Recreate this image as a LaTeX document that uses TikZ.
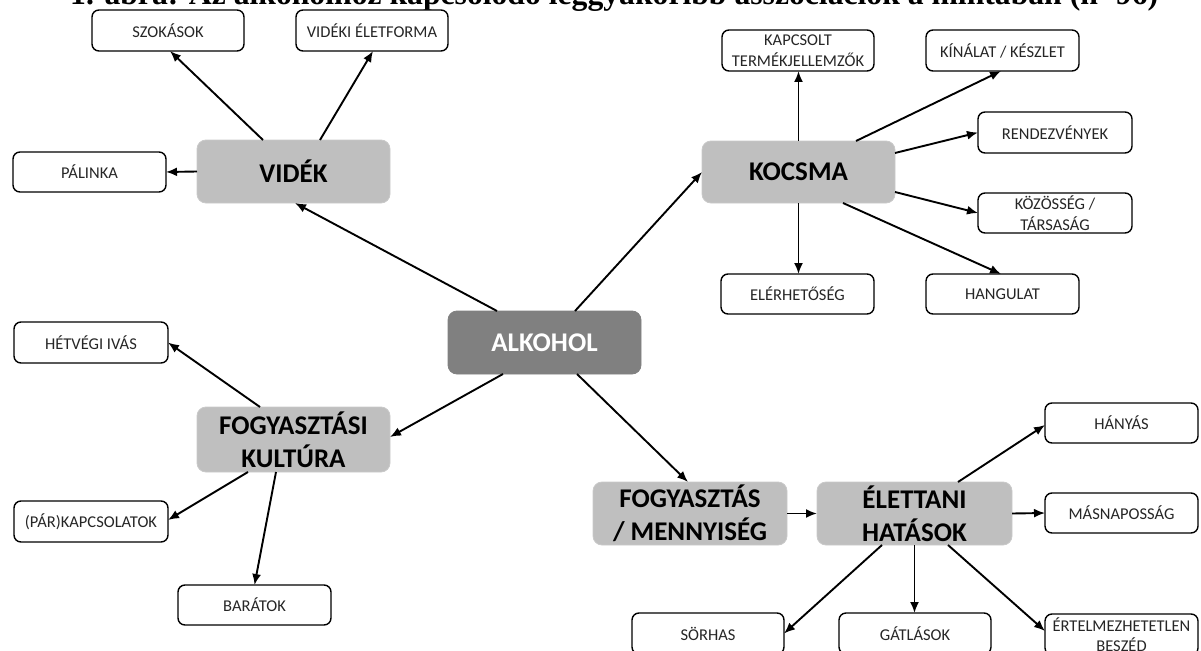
\documentclass[tikz,border=0pt]{standalone}
\usepackage{fontspec}
\usepackage{graphicx}
\setmainfont{Carlito}
\newfontfamily\titlefont{Liberation Serif}
\usetikzlibrary{arrows.meta}
\definecolor{boxgray}{HTML}{BFBFBF}
\definecolor{darkbox}{HTML}{808080}
\definecolor{txt}{HTML}{262626}
\tikzset{
  x=1pt, y=-1pt,
  leaf/.style={draw=black, line width=1.4pt, fill=white, rounded corners=7pt,
    inner sep=0pt, outer sep=0pt, align=center, text=txt,
    font=\fontsize{16.5}{20.5}\selectfont},
  hub/.style={fill=boxgray, draw=boxgray!85!white, line width=0.8pt, rounded corners=9pt,
    inner sep=0pt, outer sep=0pt, align=center, text=black,
    font=\fontsize{27}{33}\selectfont\bfseries},
  core/.style={hub, fill=darkbox, draw=darkbox, text=white},
  conn/.style={line width=1.9pt, -{Latex[length=11pt,width=9pt]}}
}
\begin{document}
\begin{tikzpicture}
\useasboundingbox (0,0) rectangle (1201,650);
% title (cut at the top as in the reference)
\node[anchor=base west, inner sep=0pt] (title) at (70,5)
  {\resizebox{1088pt}{!}{\titlefont\bfseries 1. ábra: Az alkoholhoz kapcsolódó leggyakoribb asszociációk a mintában (n=96)}};

% hubs
\node[hub, minimum width=193pt, minimum height=63pt] (videk) at (293.5,171.5) {VIDÉK};
\node[hub, minimum width=193pt, minimum height=62pt] (kocsma) at (798.5,172) {KOCSMA};
\node[core, minimum width=193pt, minimum height=63pt] (alkohol) at (544.5,342.5) {ALKOHOL};
\node[hub, minimum width=193pt, minimum height=65pt] (fk) at (293.5,439.5) {FOGYASZTÁSI\\KULTÚRA};
\node[hub, minimum width=194pt, minimum height=63pt] (fogy) at (690,513.5) {FOGYASZTÁS\\/ MENNYISÉG};
\node[hub, minimum width=195pt, minimum height=63pt] (elet) at (914.5,513.5) {ÉLETTANI\\HATÁSOK};

% leaves
\node[leaf, minimum width=152pt, minimum height=41pt] (szok) at (168,30.5) {SZOKÁSOK};
\node[leaf, minimum width=152pt, minimum height=41pt] (videki) at (372,30.5) {VIDÉKI ÉLETFORMA};
\node[leaf, minimum width=153pt, minimum height=40pt] (palinka) at (89.5,172) {PÁLINKA};
\node[leaf, minimum width=152pt, minimum height=41pt] (kapcs) at (798,50.5) {KAPCSOLT\\TERMÉKJELLEMZŐK};
\node[leaf, minimum width=153pt, minimum height=41pt] (kinalat) at (1002.5,50.5) {KÍNÁLAT / KÉSZLET};
\node[leaf, minimum width=154pt, minimum height=41pt] (rendez) at (1055,132.5) {RENDEZVÉNYEK};
\node[leaf, minimum width=154pt, minimum height=40pt] (kozosseg) at (1055,213) {KÖZÖSSÉG /\\TÁRSASÁG};
\node[leaf, minimum width=153pt, minimum height=40pt] (elerh) at (797.5,294) {ELÉRHETŐSÉG};
\node[leaf, minimum width=153pt, minimum height=40pt] (hangulat) at (1002.5,294) {HANGULAT};
\node[leaf, minimum width=154pt, minimum height=41pt] (hetvegi) at (91,342.5) {HÉTVÉGI IVÁS};
\node[leaf, minimum width=154pt, minimum height=41pt] (par) at (91,521.5) {(PÁR)KAPCSOLATOK};
\node[leaf, minimum width=153pt, minimum height=40pt] (baratok) at (254.5,605) {BARÁTOK};
\node[leaf, minimum width=152pt, minimum height=41pt] (sorhas) at (708,633.5) {SÖRHAS};
\node[leaf, minimum width=152pt, minimum height=41pt] (gatlas) at (915,633.5) {GÁTLÁSOK};
\node[leaf, minimum width=153pt, minimum height=40pt] (hanyas) at (1121.5,423) {HÁNYÁS};
\node[leaf, minimum width=153pt, minimum height=40pt] (masnap) at (1121.5,513) {MÁSNAPOSSÁG};
\node[leaf, minimum width=153pt, minimum height=41pt] (ertelm) at (1121.5,634.5) {ÉRTELMEZHETETLEN\\BESZÉD};

% connectors
\draw[conn] ([xshift=-30.5pt]videk.north) -- ([xshift=2pt]szok.south);
\draw[conn] ([xshift=26.5pt]videk.north) -- ([xshift=1pt]videki.south);
\draw[conn] (videk.west) -- (palinka.east);
\draw[conn] ([xshift=-47.5pt]alkohol.north) -- ([xshift=1.5pt]videk.south);
\draw[conn] ([xshift=30.5pt]alkohol.north) -- (kocsma.west);
\draw[conn] (kocsma.north) -- (kocsma.north |- kapcs.south);
\draw[conn] ([xshift=57.5pt]kocsma.north) -- ([xshift=-1.5pt]kinalat.south);
\draw[conn] ([yshift=19pt]kocsma.east) -- (rendez.west);
\draw[conn] ([yshift=-20pt]kocsma.east) -- (kozosseg.west);
\draw[conn] ([xshift=44.5pt]kocsma.south) -- ([xshift=-1.5pt]hangulat.north);
\draw[conn] (kocsma.south) -- (kocsma.south |- elerh.north);
\draw[conn] ([xshift=-41.5pt]alkohol.south) -- ([yshift=2.5pt]fk.east);
\draw[conn] ([xshift=32.5pt]alkohol.south) -- ([xshift=-2pt]fogy.north);
\draw[conn] ([xshift=-33.5pt]fk.north) -- (hetvegi.east);
\draw[conn] ([xshift=-45.5pt]fk.south) -- ([yshift=1.5pt]par.east);
\draw[conn] ([xshift=-17.5pt]fk.south) -- (baratok.north);
\draw[conn] (fogy.east) -- (elet.west);
\draw[conn] ([xshift=43.5pt]elet.north) -- ([yshift=-2pt]hanyas.west);
\draw[conn] (elet.east) -- (masnap.west);
\draw[conn] ([xshift=33.5pt]elet.south) -- ([yshift=3.5pt]ertelm.west);
\draw[conn] (elet.south) -- (elet.south |- gatlas.north);
\draw[conn] ([xshift=-32.5pt]elet.south) -- (sorhas.east);
\end{tikzpicture}
\end{document}
